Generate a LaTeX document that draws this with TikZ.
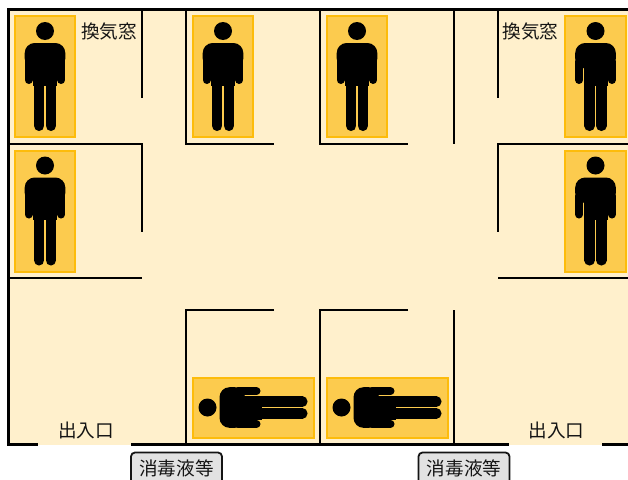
\documentclass[tikz,border=0pt]{standalone}
\usepackage{fontspec}
\setmainfont{Noto Sans CJK JP}
\definecolor{roomc}{HTML}{FFF0CC}
\definecolor{bedfill}{HTML}{FCCB4E}
\definecolor{bedline}{HTML}{FDBC0B}
\definecolor{signc}{HTML}{E2E2E2}
\tikzset{
  outerwall/.style={draw=black,line width=3.5pt},
  wall/.style={draw=black,line width=2pt},
  bedbox/.style={fill=bedfill,draw=bedline,line width=2pt},
  lbl/.style={font=\fontsize{18.6}{18.6}\selectfont,inner sep=0pt,text=black!92},
  sign/.style={draw=black!92,fill=signc,line width=1.8pt,rounded corners=4pt,minimum width=91pt,minimum height=36pt,inner sep=0pt},
  limbarm/.style={draw=black,line width=8pt,line cap=round},
  limbleg/.style={draw=black,line width=10.5pt,line cap=round}
}
\newcommand{\figureman}[3]{%
  \begin{scope}[shift={(#1,#2)},rotate=#3]
    \fill[black] (0,-45.5) circle (9);
    \fill[black,rounded corners=10pt] (-20.3,-8) -- (-20.3,-33.5) -- (20.3,-33.5) -- (20.3,-8) -- cycle;
    \fill[black] (-12,-20) rectangle (12,9);
    \draw[limbarm] (-16.3,-15) -- (-16.3,3.5);
    \draw[limbarm] (16.3,-15) -- (16.3,3.5);
    \draw[limbleg] (-5.8,0) -- (-5.8,49.3);
    \draw[limbleg] (5.8,0) -- (5.8,49.3);
  \end{scope}}
\begin{document}
\begin{tikzpicture}[x=1pt,y=-1pt]
\useasboundingbox (0,0) rectangle (628,479);
\clip (0,0) rectangle (628,479);
\fill[white] (0,0) rectangle (628,479);
\fill[roomc] (8,10) rectangle (628,445);
% outer walls
\draw[outerwall,line cap=butt] (628,9.5) -- (8.5,9.5) -- (8.5,444.3) -- (38,444.3);
\draw[outerwall] (131,444.3) -- (509,444.3);
\draw[outerwall] (602,444.3) -- (628,444.3);
% inner walls
\draw[wall] (142,10) -- (142,97.5);
\draw[wall] (9,144) -- (142,144) -- (142,232);
\draw[wall] (9,278) -- (142,278);
\draw[wall] (186,10) -- (186,144) -- (274,144);
\draw[wall] (320,10) -- (320,144) -- (408,144);
\draw[wall] (454,10) -- (454,144);
\draw[wall] (498,10) -- (498,97.5);
\draw[wall] (628,144) -- (498,144) -- (498,232);
\draw[wall] (498,278) -- (628,278);
\draw[wall] (274,310) -- (186,310) -- (186,444);
\draw[wall] (408,310) -- (320,310) -- (320,444);
\draw[wall] (454,310) -- (454,444);
% beds
\foreach \xa/\ya/\xb/\yb in {15/16.3/75/137,193/16.3/253/137,327/16.3/387/137,565/16.3/626/137,15/151/75/272,565/151/626/272,193/378/314/438,327/378/448/438}
  \draw[bedbox] (\xa,\ya) rectangle (\xb,\yb);
% people
\figureman{45}{76.5}{0}
\figureman{223}{76.5}{0}
\figureman{357}{76.5}{0}
\figureman{595.5}{76.5}{0}
\figureman{45}{211}{0}
\figureman{595.5}{211}{0}
\figureman{253}{407.5}{90}
\figureman{387}{407.5}{90}
% labels
\node[lbl] (winl) at (109,31) {換気窓};
\node[lbl] (winr) at (530.5,31) {換気窓};
\node[lbl] (doorl) at (86,430.5) {出入口};
\node[lbl] (doorr) at (556.5,430.5) {出入口};
\node[sign] (signl) at (176.5,470.5) {};
\node[sign] (signr) at (464,470.5) {};
\node[lbl] (signlt) at (176.5,468) {消毒液等};
\node[lbl] (signrt) at (464,468) {消毒液等};
\end{tikzpicture}
\end{document}
